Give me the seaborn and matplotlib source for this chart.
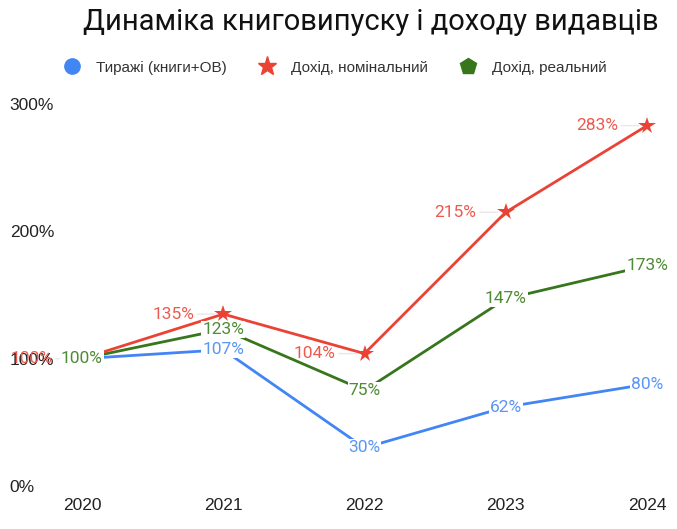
import numpy as np
import pandas as pd
import seaborn as sns
import matplotlib.pyplot as plt
from matplotlib.lines import Line2D

sns.set_style("white")
plt.rcParams["font.family"] = ["Roboto", "DejaVu Sans"]

# data
years = [2020, 2021, 2022, 2023, 2024]
tirazhi = [100, 107, 30, 62, 80]
dohid_nom = [100, 135, 104, 215, 283]
dohid_real = [100, 123, 75, 147, 173]
y_ticks = [0, 100, 200, 300]
y_tick_labels = ["0%", "100%", "200%", "300%"]

blue = "#4285F4"
red = "#EA4335"
green = "#38761D"
arial = ["Liberation Sans", "DejaVu Sans"]

fig = plt.figure(figsize=(6.77, 5.29), dpi=100)
ax = fig.add_axes([82 / 677, 43 / 529, (647 - 82) / 677, (425 - 43) / 529])

df = pd.DataFrame({"year": years, "blue": tirazhi, "red": dohid_nom, "green": dohid_real})

sns.lineplot(data=df, x="year", y="blue", color=blue, lw=2, ax=ax, clip_on=False, zorder=2)
sns.lineplot(data=df, x="year", y="green", color=green, lw=2, ax=ax, clip_on=False, zorder=2)
sns.lineplot(data=df, x="year", y="red", color=red, lw=2, marker="*", markersize=13,
             markeredgewidth=0, ax=ax, clip_on=False, zorder=3)

# value labels
for x, v in zip(years, dohid_nom):
    ax.annotate(f"{v}%", xy=(x, v), xytext=(-21, 0), textcoords="offset points",
                ha="right", va="center", fontsize=12.5, color="#ec5a4f", zorder=4,
                arrowprops=dict(arrowstyle="-", color="#e8e8e8", lw=1,
                                shrinkA=0, shrinkB=6))
for x, v in zip(years, tirazhi):
    ax.text(x, v, f"{v}%", ha="center", va="center", fontsize=12.5, color="#5a96f5", zorder=5,
            bbox=dict(boxstyle="square,pad=0.05", fc="white", ec="none"))
for x, v in zip(years, dohid_real):
    ax.text(x, v, f"{v}%", ha="center", va="center", fontsize=12.5, color="#4f8a35", zorder=6,
            bbox=dict(boxstyle="square,pad=0.05", fc="white", ec="none"))

ax.set_xlim(2020, 2024)
ax.set_ylim(0, 300)
ax.set_xticks(years)
ax.set_xticklabels([str(y) for y in years], fontsize=12.5, color="#222222", family=arial)
ax.set_yticks(y_ticks)
ax.set_yticklabels(y_tick_labels, fontsize=12.5, color="#222222", ha="left", family=arial)
ax.tick_params(axis="y", length=0, pad=52)
ax.tick_params(axis="x", length=0, pad=9)
ax.set_xlabel("")
ax.set_ylabel("")
sns.despine(ax=ax, left=True, bottom=True)
ax.grid(False)

fig.text(0.548, 0.958, "Динаміка книговипуску і доходу видавців", ha="center", va="center",
         fontsize=21, color="#111111")

handles = [
    Line2D([], [], ls="none", marker="o", color=blue, markersize=11),
    Line2D([], [], ls="none", marker="*", color=red, markersize=14),
    Line2D([], [], ls="none", marker="p", color=green, markersize=12),
]
labels = ["Тиражі (книги+ОВ)", "Дохід, номінальний", "Дохід, реальний"]
fig.legend(handles, labels, loc="center", bbox_to_anchor=(0.49, 0.872), ncol=3, frameon=False,
           fontsize=11, labelcolor="#333333", handletextpad=0.6, columnspacing=1.6,
           prop={"family": arial, "size": 11})

fig.savefig("out.png", dpi=100)
